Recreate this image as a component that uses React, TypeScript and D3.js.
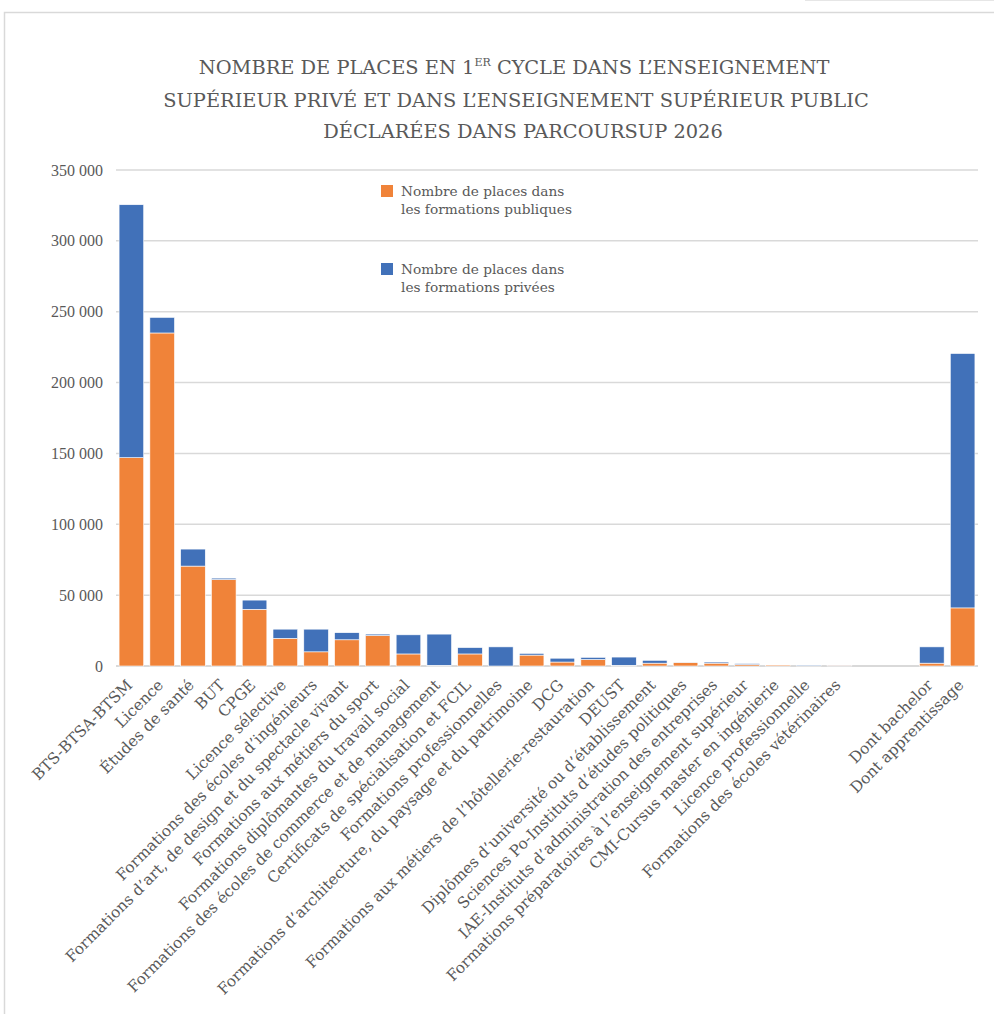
import { useEffect, useRef } from 'react';
import * as d3 from 'd3';

// Places declared in Parcoursup 2026, first cycle
const CATEGORIES = [
  'BTS-BTSA-BTSM',
  'Licence',
  'Études de santé',
  'BUT',
  'CPGE',
  'Licence sélective',
  'Formations des écoles d’ingénieurs',
  'Formations d’art, de design et du spectacle vivant',
  'Formations aux métiers du sport',
  'Formations diplômantes du travail social',
  'Formations des écoles de commerce et de management',
  'Certificats de spécialisation et FCIL',
  'Formations professionnelles',
  'Formations d’architecture, du paysage et du patrimoine',
  'DCG',
  'Formations aux métiers de l’hôtellerie-restauration',
  'DEUST',
  'Diplômes d’université ou d’établissement',
  'Sciences Po-Instituts d’études politiques',
  'IAE-Instituts d’administration des entreprises',
  'Formations préparatoires à l’enseignement supérieur',
  'CMI-Cursus master en ingénierie',
  'Licence professionnelle',
  'Formations des écoles vétérinaires',
  '',
  '',
  'Dont bachelor',
  'Dont apprentissage',
];

const PUBLIC_PLACES = [
  147000, 235000, 70500, 61000, 40000, 19500, 10000, 18500, 21500, 8500,
  500, 8500, 0, 7700, 2800, 4600, 500, 2000, 2500, 2000,
  1000, 700, 300, 600, 0, 0, 2000, 41000,
];

const PRIVATE_PLACES = [
  178500, 11000, 12000, 1000, 6500, 6500, 16000, 5000, 1000, 13500,
  22000, 4500, 13500, 1200, 2700, 1500, 5800, 2000, 100, 800,
  700, 0, 400, 100, 0, 0, 11500, 179500,
];

const Y_TICKS = [0, 50000, 100000, 150000, 200000, 250000, 300000, 350000];

const SERIES = [
  { key: 'public', label: ['Nombre de places dans', 'les formations publiques'], color: '#F08339' },
  { key: 'private', label: ['Nombre de places dans', 'les formations privées'], color: '#4171B9' },
];

const FONT = '"DejaVu Serif", serif';
const NUM_FONT = '"Liberation Serif", serif';
const TEXT = '#595959';
const GRID = '#d9d9d9';

export default function App() {
  const svgRef = useRef<SVGSVGElement | null>(null);

  useEffect(() => {
    if (!svgRef.current) return;
    const width = 994;
    const height = 1014;
    const margin = { left: 116, right: 16, top: 170, bottom: 348 };

    const svg = d3.select(svgRef.current);
    svg.selectAll('*').remove();
    svg.attr('width', width).attr('height', height);

    // chart frame
    svg.append('rect')
      .attr('x', 4.5).attr('y', 12.5)
      .attr('width', width + 20).attr('height', height + 20)
      .attr('fill', '#fff')
      .attr('stroke', GRID).attr('stroke-width', 1.5);
    svg.append('line')
      .attr('x1', 805).attr('x2', width).attr('y1', 0.5).attr('y2', 0.5)
      .attr('stroke', '#e6e6e6').attr('stroke-width', 1);

    // title
    const title = svg.append('text')
      .attr('text-anchor', 'middle')
      .attr('font-family', FONT)
      .attr('font-size', 19.4)
      .attr('fill', TEXT);
    const l1 = title.append('tspan').attr('x', 514).attr('y', 74);
    l1.append('tspan').text('NOMBRE DE PLACES EN 1');
    l1.append('tspan').attr('font-size', 11).attr('dy', -8).text('ER');
    l1.append('tspan').attr('dy', 8).text(' CYCLE DANS L’ENSEIGNEMENT');
    title.append('tspan').attr('x', 516).attr('y', 107)
      .text('SUPÉRIEUR PRIVÉ ET DANS L’ENSEIGNEMENT SUPÉRIEUR PUBLIC');
    title.append('tspan').attr('x', 523).attr('y', 138)
      .text('DÉCLARÉES DANS PARCOURSUP 2026');

    const x = d3.scaleBand<number>()
      .domain(CATEGORIES.map((_, i) => i))
      .range([margin.left, width - margin.right])
      .paddingInner(0.2)
      .paddingOuter(0.1);

    const y = d3.scaleLinear()
      .domain([0, 350000])
      .range([height - margin.bottom, margin.top]);

    // gridlines
    svg.append('g')
      .selectAll('line')
      .data(Y_TICKS)
      .enter()
      .append('line')
      .attr('x1', margin.left)
      .attr('x2', width - margin.right)
      .attr('y1', d => y(d))
      .attr('y2', d => y(d))
      .attr('stroke', GRID)
      .attr('stroke-width', d => d === 0 ? 2 : 1.5);

    const fmt = (v: number) => d3.format(',')(v).replace(/,/g, ' ');
    svg.append('g')
      .selectAll('text')
      .data(Y_TICKS)
      .enter()
      .append('text')
      .attr('x', 103)
      .attr('y', d => y(d))
      .attr('dy', '0.35em')
      .attr('text-anchor', 'end')
      .attr('font-family', NUM_FONT)
      .attr('font-size', 16)
      .attr('fill', TEXT)
      .text(d => fmt(d));

    // stacked bars
    const rows = CATEGORIES.map((c, i) => ({
      index: i,
      public: PUBLIC_PLACES[i],
      private: PRIVATE_PLACES[i],
    }));
    const stacked = d3.stack<any>().keys(SERIES.map(s => s.key))(rows);

    svg.append('g')
      .selectAll('g')
      .data(stacked)
      .enter()
      .append('g')
      .attr('fill', (_, i) => SERIES[i].color)
      .selectAll('rect')
      .data(d => d.filter(p => p[1] - p[0] > 0))
      .enter()
      .append('rect')
      .attr('x', d => x(d.data.index)!)
      .attr('width', x.bandwidth())
      .attr('y', d => y(d[1]))
      .attr('height', d => y(d[0]) - y(d[1]))
      .attr('stroke', '#fff')
      .attr('stroke-width', 0.6);

    // category labels, rotated
    svg.append('g')
      .selectAll('text')
      .data(CATEGORIES.map((c, i) => ({ c, i })).filter(d => d.c))
      .enter()
      .append('text')
      .attr('transform', d => `translate(${x(d.i)! + x.bandwidth() / 2 + 2},${y(0) + 20}) rotate(-45)`)
      .attr('text-anchor', 'end')
      .attr('font-family', FONT)
      .attr('font-size', 15.4)
      .attr('fill', TEXT)
      .text(d => d.c);

    // legend
    const legend = svg.append('g');
    const legendRows = [185, 263];
    SERIES.forEach((s, i) => {
      const g = legend.append('g').attr('transform', `translate(381,${legendRows[i]})`);
      g.append('rect').attr('width', 12).attr('height', 12).attr('fill', s.color);
      s.label.forEach((line, j) => {
        g.append('text')
          .attr('x', 20)
          .attr('y', 11 + j * 18)
          .attr('font-family', FONT)
          .attr('font-size', 13.7)
          .attr('fill', TEXT)
          .text(line);
      });
    });
  }, []);

  return (
    <div style={{ position: 'absolute', left: 0, top: 0, background: '#fff' }}>
      <svg ref={svgRef} style={{ display: 'block' }} />
    </div>
  );
}
